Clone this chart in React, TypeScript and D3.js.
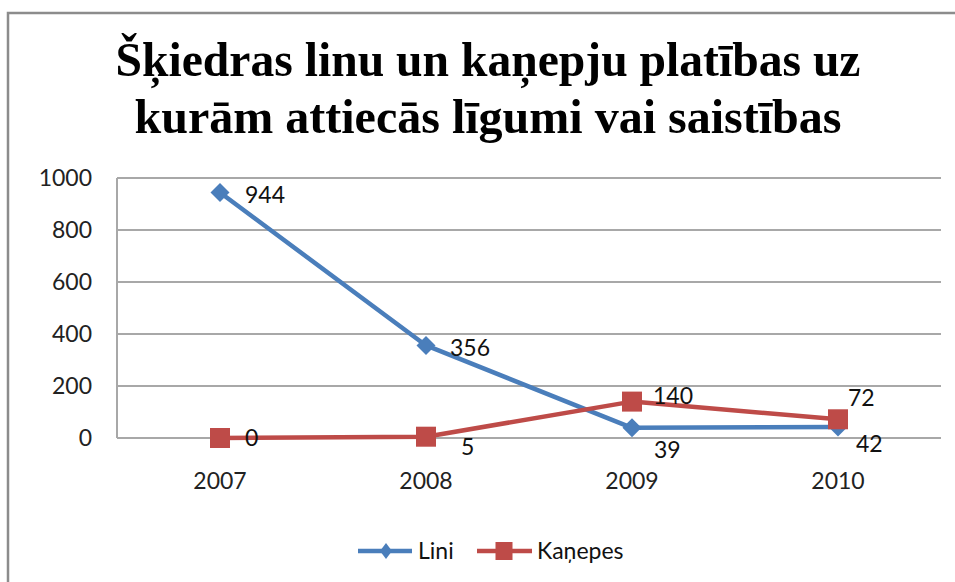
import React from 'react';
import * as d3 from 'd3';

const categories = ['2007', '2008', '2009', '2010'];
const liniValues = [944, 356, 39, 42];
const kanepesValues = [0, 5, 140, 72];
const yTicks = [0, 200, 400, 600, 800, 1000];
const seriesNames = ['Lini', 'Kaņepes'];
const titleLines = ['Šķiedras linu un kaņepju platības uz', 'kurām attiecās līgumi vai saistības'];

// label placement (layout, not data)
const liniLabelOffsets = [[25, 2], [24, 2], [22, 22], [18, 17]];
const kanepesLabelOffsets = [[25, 0], [35, 10], [21, -6], [10, -22]];

const W = 955;
const H = 582;
const BLUE = '#4A7EBB';
const RED = '#BE4B48';
const FONT = 'Lato, "Open Sans", sans-serif';

export default function App() {
  const x = d3.scaleBand<string>().domain(categories).range([117, 941]).padding(0);
  const cx = (c: string) => (x(c) as number) + x.bandwidth() / 2;
  const y = d3.scaleLinear().domain([0, 1000]).range([438, 178]);
  const line = d3
    .line<number>()
    .x((_, i) => cx(categories[i]))
    .y((d) => y(d));

  const diamond = (px: number, py: number, r: number) =>
    `M${px},${py - r}L${px + r},${py}L${px},${py + r}L${px - r},${py}Z`;

  return (
    <svg width={W} height={H} style={{ position: 'absolute', left: 0, top: 0, background: '#fff' }}>
      <rect x={0} y={0} width={W} height={H} fill="#fff" />
      {/* outer chart border */}
      <rect x={8} y={13} width={1000} height={700} fill="#fff" stroke="#8c8c8c" strokeWidth={2.5} />

      {/* title */}
      {titleLines.map((t, i) => (
        <text
          key={t}
          x={488}
          y={i === 0 ? 76 : 133}
          textAnchor="middle"
          fontFamily='"Liberation Serif", "Times New Roman", serif'
          fontWeight="bold"
          fontSize={49}
          textLength={i === 0 ? 745 : 707}
          lengthAdjust="spacingAndGlyphs"
          fill="#000"
        >
          {t}
        </text>
      ))}

      {/* gridlines */}
      {yTicks.map((t) => (
        <line key={t} x1={117} x2={941} y1={y(t)} y2={y(t)} stroke="#a8a8a8" strokeWidth={2} />
      ))}
      <line x1={117} x2={117} y1={y(1000)} y2={y(0)} stroke="#a8a8a8" strokeWidth={2} />

      {/* y tick labels */}
      {yTicks.map((t) => (
        <text key={t} x={92} y={y(t)} dy="0.36em" textAnchor="end" fontFamily={FONT} fontSize={23} fill="#222">
          {t}
        </text>
      ))}

      {/* x tick labels */}
      {categories.map((c) => (
        <text key={c} x={cx(c)} y={489} textAnchor="middle" fontFamily={FONT} fontSize={23} fill="#222">
          {c}
        </text>
      ))}

      {/* Lini series */}
      <path d={line(liniValues) || ''} fill="none" stroke={BLUE} strokeWidth={4.5} strokeLinejoin="round" />
      {liniValues.map((v, i) => (
        <path key={i} d={diamond(cx(categories[i]), y(v), 9.5)} fill={BLUE} />
      ))}

      {/* Kaņepes series */}
      <path d={line(kanepesValues) || ''} fill="none" stroke={RED} strokeWidth={4.5} strokeLinejoin="round" />
      {kanepesValues.map((v, i) => (
        <rect key={i} x={cx(categories[i]) - 10} y={y(v) - 10} width={20} height={20} fill={RED} />
      ))}

      {/* data labels */}
      {liniValues.map((v, i) => (
        <text
          key={'l' + i}
          x={cx(categories[i]) + liniLabelOffsets[i][0]}
          y={y(v) + liniLabelOffsets[i][1]}
          dy="0.36em"
          fontFamily={FONT}
          fontSize={23}
          fill="#111"
        >
          {v}
        </text>
      ))}
      {kanepesValues.map((v, i) => (
        <text
          key={'k' + i}
          x={cx(categories[i]) + kanepesLabelOffsets[i][0]}
          y={y(v) + kanepesLabelOffsets[i][1]}
          dy="0.36em"
          fontFamily={FONT}
          fontSize={23}
          fill="#111"
        >
          {v}
        </text>
      ))}

      {/* legend */}
      <g>
        <line x1={358} x2={412} y1={551} y2={551} stroke={BLUE} strokeWidth={4.5} />
        <path d={`M386,${551 - 8}L${392},551L386,${551 + 8}L380,551Z`} fill={BLUE} />
        <text x={418} y={551} dy="0.36em" fontFamily={FONT} fontSize={23} fill="#111">
          {seriesNames[0]}
        </text>
        <line x1={477} x2={532} y1={551} y2={551} stroke={RED} strokeWidth={4.5} />
        <rect x={504 - 8.5} y={551 - 9} width={17} height={18} fill={RED} />
        <text x={537} y={551} dy="0.36em" fontFamily={FONT} fontSize={23} fill="#111">
          {seriesNames[1]}
        </text>
      </g>
    </svg>
  );
}
